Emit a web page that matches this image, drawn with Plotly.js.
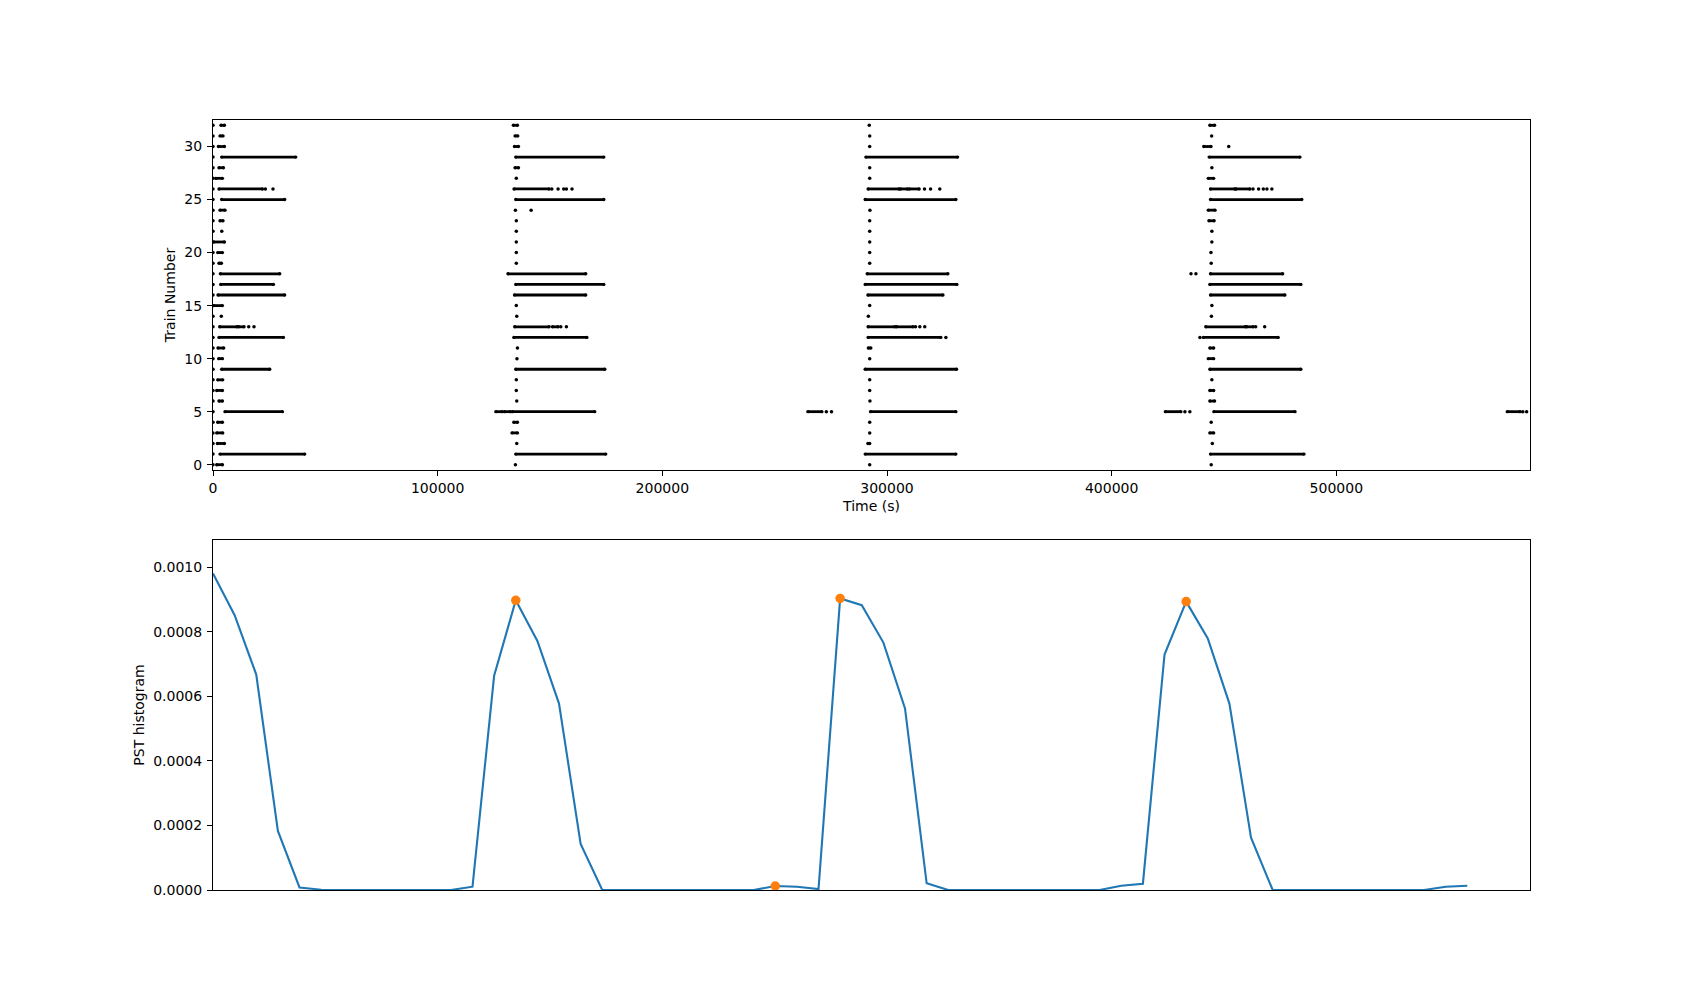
<!DOCTYPE html>
<html>
<head>
<meta charset="utf-8">
<script src="https://cdn.plot.ly/plotly-3.0.1.min.js"></script>
<style>html,body{margin:0;padding:0;background:#fff;}#chart{width:1700px;height:1000px;}</style>
</head>
<body>
<div id="chart"></div>
<script>
// ---------- DATA ----------
const trainTicks = [0, 5, 10, 15, 20, 25, 30];
const timeTicks = [0, 100000, 200000, 300000, 400000, 500000];

// spike runs: [train, start time (s), end time (s)]
const burst1Runs = [[32,3560,5080],[31,3120,4450],[30,2400,5080],[29,3870,36820],[28,2670,4630],[27,1200,4190],[26,2670,22000],[25,3870,31900],[24,3120,5340],[23,3120,4450],[21,300,5080],[20,2090,4190],[19,2670,3740],[18,3290,29700],[17,3430,26900],[16,2230,31900],[15,300,4190],[13,2980,10700],[13,11400,13800],[12,2670,31340],[11,2230,4760],[10,2540,4190],[9,3870,25240],[8,2090,4320],[7,1650,4190],[6,2670,4190],[5,5340,30900],[4,2090,4190],[3,1650,4320],[2,1960,5080],[1,3120,40820],[0,1650,4190]];
const burst2Runs = [[32,133700,135500],[31,134450,135650],[30,134200,135960],[29,134760,173940],[28,134450,135960],[26,134000,149600],[25,134760,173940],[18,131300,165900],[17,134760,173940],[16,134200,165900],[13,134300,149600],[13,151100,153600],[12,133900,166400],[9,134760,174400],[5,125900,128700],[5,129700,132400],[5,133300,169900],[4,133900,135500],[3,133100,135500],[1,134760,174800]];
const burst3Runs = [[29,290600,331400],[26,291600,305400],[26,306000,309100],[26,309900,314300],[25,290300,330650],[18,291200,327100],[17,290300,331100],[16,291500,324900],[13,291600,303500],[13,304200,311600],[12,291600,323970],[11,291700,292800],[9,290300,330960],[5,264800,271000],[5,292670,330650],[2,291500,292300],[1,290300,330650]];
const burst4Runs = [[32,443700,445800],[30,441000,444200],[29,443400,483800],[27,443000,445400],[26,444000,454900],[26,455300,461500],[25,444000,484600],[24,443000,446000],[23,443300,445600],[18,444000,476100],[17,443700,484200],[16,444000,477100],[13,441900,459500],[13,460100,463000],[12,440800,474100],[11,443700,445400],[10,443000,445400],[9,443700,484200],[7,443700,445400],[6,443700,445800],[5,423900,430800],[5,445500,481600],[5,576100,581800],[3,443700,445400],[1,444000,485600]];

// isolated spikes: [train, time (s)]
const burst1Dots = [[32,0],[31,0],[30,0],[29,0],[28,0],[27,0],[26,0],[26,23300],[26,26700],[25,0],[24,0],[23,0],[22,0],[22,3900],[20,0],[19,0],[18,0],[17,0],[16,0],[14,0],[14,3700],[13,0],[13,15900],[13,18250],[12,0],[11,0],[10,0],[9,0],[8,0],[7,0],[6,0],[5,0],[4,0],[3,0],[2,0],[1,0],[0,0]];
const burst2Dots = [[27,135000],[26,150800],[26,153600],[26,156100],[26,157300],[26,159800],[24,134600],[24,141600],[23,135000],[22,135000],[21,135000],[20,135000],[19,135000],[15,135000],[14,135200],[13,154800],[13,157300],[11,135500],[10,135300],[8,135000],[7,135000],[6,135200],[2,135200],[0,134600]];
const burst3Dots = [[32,292100],[31,292300],[30,292300],[28,292300],[27,292300],[26,316700],[26,319400],[26,323500],[24,292400],[23,292300],[22,292300],[21,292300],[20,292300],[19,292300],[15,292300],[14,291700],[13,312700],[13,314600],[13,316800],[12,326200],[10,292300],[8,292300],[7,292300],[6,292400],[5,273000],[5,275300],[4,292300],[3,292300],[0,292300]];
const burst4Dots = [[31,444500],[30,452100],[28,444600],[26,462900],[26,465400],[26,467500],[26,469100],[26,471300],[22,444600],[21,444600],[20,444200],[19,444300],[18,435300],[18,437500],[15,444600],[14,444400],[13,464100],[13,468100],[12,439300],[8,444600],[5,432600],[5,434800],[5,583000],[5,584700],[4,444300],[2,444800],[0,444300]];

// PST histogram values per bin
const pstValues = [0.000981,0.000852,0.000668,0.000183,0.000008,0.000001,0,0,0,0,0,0,0.0000103,0.000664,0.000898,0.000772,0.000578,0.000143,0,0,0,0,0,0,0,0,0.0000124,0.0000103,0.000003,0.000904,0.000883,0.000767,0.000563,0.0000207,0,0,0,0,0,0,0,0,0.0000134,0.0000195,0.00073,0.000894,0.00078,0.000578,0.000162,0,0,0,0,0,0,0,0,0.0000103,0.0000134];
const peakIndex = [14, 26, 29, 45];
const pstTicks = [0, 0.0002, 0.0004, 0.0006, 0.0008, 0.0010];

// ---------- BUILD ----------
const allRuns = burst1Runs.concat(burst2Runs, burst3Runs, burst4Runs);
const allDots = burst1Dots.concat(burst2Dots, burst3Dots, burst4Dots);
const runX = [], runY = [];
allRuns.forEach(r => { runX.push(r[1], r[2], null); runY.push(r[0], r[0], null); });

const traces = [
  {x: runX, y: runY, xaxis:'x', yaxis:'y', type:'scatter', mode:'lines+markers',
   line:{color:'black', width:2.8}, marker:{color:'black', size:3.4}, hoverinfo:'skip'},
  {x: allDots.map(d => d[1]), y: allDots.map(d => d[0]), xaxis:'x', yaxis:'y', type:'scatter', mode:'markers',
   marker:{color:'black', size:3.5}, hoverinfo:'skip'},
  {x: pstValues.map((v, i) => i), y: pstValues, xaxis:'x2', yaxis:'y2', type:'scatter', mode:'lines',
   line:{color:'#1f77b4', width:2.1}},
  {x: peakIndex, y: peakIndex.map(i => pstValues[i]), xaxis:'x2', yaxis:'y2', type:'scatter', mode:'markers',
   marker:{color:'#ff7f0e', size:9.5}}
];

const axisBase = {showgrid:false, zeroline:false, showline:true, mirror:true, linecolor:'black', linewidth:1,
  ticks:'outside', ticklen:5, tickwidth:1, tickcolor:'black', tickfont:{family:'DejaVu Sans', size:14, color:'black'}};

const layout = {
  width:1700, height:1000,
  margin:{l:213, r:170, t:120, b:110},
  paper_bgcolor:'white', plot_bgcolor:'white',
  showlegend:false,
  font:{family:'DejaVu Sans', size:14, color:'black'},
  xaxis: Object.assign({}, axisBase, {anchor:'y', domain:[0,1], range:[0,586200], tickvals:timeTicks, tickformat:'d',
    title:{text:'Time (s)', standoff:6, font:{family:'DejaVu Sans', size:14}}}),
  yaxis: Object.assign({}, axisBase, {anchor:'x', domain:[420/770,1], range:[-0.5,32.5], tickvals:trainTicks,
    ticklabelstandoff:2,
    title:{text:'Train Number', standoff:5, font:{family:'DejaVu Sans', size:14}}}),
  xaxis2: Object.assign({}, axisBase, {anchor:'y2', domain:[0,1], range:[0,60.9], ticks:'', showticklabels:false}),
  yaxis2: Object.assign({}, axisBase, {anchor:'x2', domain:[0,350/770], range:[0,0.001085], tickvals:pstTicks, tickformat:'.4f',
    ticklabelstandoff:2,
    title:{text:'PST histogram', standoff:5, font:{family:'DejaVu Sans', size:14}}})
};

Plotly.newPlot('chart', traces, layout, {staticPlot:true, displayModeBar:false});
</script>
</body>
</html>
